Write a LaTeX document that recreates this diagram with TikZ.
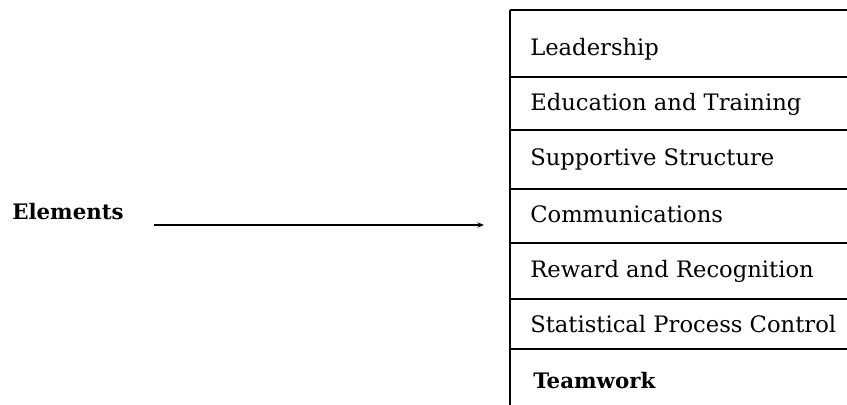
\documentclass[tikz,border=0pt]{standalone}
\usepackage{fontspec}
\setmainfont{DejaVu Serif}
\usetikzlibrary{arrows.meta}
\begin{document}
\begin{tikzpicture}[x=0.75pt,y=-0.75pt,
  cell/.style={anchor=base west,inner sep=0pt,font=\fontsize{17}{20}\selectfont},
  boldcell/.style={anchor=base west,inner sep=0pt,font=\fontsize{16}{19}\selectfont\bfseries},
  rule/.style={line width=1.1pt},
  arr/.style={line width=0.9pt,-{Stealth[length=5pt,width=4pt]}}]
\useasboundingbox (0,0) rectangle (847,404);
\begin{scope}
\clip (0,0) rectangle (847,404);
\draw[rule] (510,10) -- (860,10);
\foreach \y in {77,130,189,243,299,349} \draw[rule] (510,\y) -- (860,\y);
\draw[line width=0.9pt] (510,10) -- (510,410);
\end{scope}
\node[cell] (lead) at (530,55) {Leadership};
\node[cell] (edu) at (530,110) {Education and Training};
\node[cell] (sup) at (530,165) {Supportive Structure};
\node[cell] (comm) at (530,222) {Communications};
\node[cell] (rew) at (530,277) {Reward and Recognition};
\node[cell] (spc) at (530,332) {Statistical Process Control};
\node[boldcell] (team) at (533,388) {Teamwork};
\node[boldcell] (elem) at (12,219) {Elements};
\coordinate (as) at (154,225);
\coordinate (ae) at (484,225);
\draw[arr] (as) -- (ae);
\end{tikzpicture}
\end{document}
